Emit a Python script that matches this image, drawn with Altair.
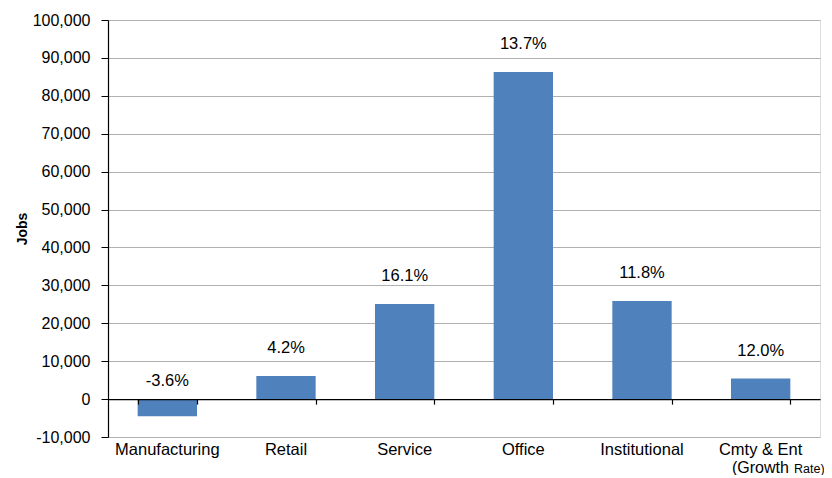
import altair as alt
import pandas as pd

categories = ["Manufacturing", "Retail", "Service", "Office", "Institutional", "Cmty & Ent"]
jobs = [-4500, 6100, 25100, 86300, 25900, 5400]
growth = ["-3.6%", "4.2%", "16.1%", "13.7%", "11.8%", "12.0%"]

df = pd.DataFrame({"cat": categories, "jobs": jobs, "growth": growth})
df["pos"] = df["jobs"].clip(lower=0)

FONT = "Liberation Sans"
W, H = 712, 417

xscale = alt.Scale(paddingInner=0.5, paddingOuter=0.25)

x_enc_labels = alt.X(
    "cat:N", sort=categories, title=None, scale=xscale,
    axis=alt.Axis(orient="bottom", domain=False, ticks=False, labelAngle=0, labelFontSize=16.5,
                  labelFont=FONT, labelColor="#000", labelPadding=4, grid=False),
)
x_enc_zero = alt.X(
    "cat:N", sort=categories, title=None, scale=xscale,
    axis=alt.Axis(orient="bottom", labels=False, domain=True, domainColor="#000", domainWidth=1.2,
                  ticks=True, tickColor="#000", tickSize=5, tickWidth=1.2,
                  tickBand="extent", offset=-37.9, grid=False, zindex=1),
)
x_enc_none = alt.X("cat:N", sort=categories, scale=xscale, axis=None)

yaxis = alt.Axis(values=list(range(-10000, 100001, 10000)), format=",.0f",
                 labelExpr="replace(datum.label, '\u2212', '-')",
                 labelFont=FONT, labelFontSize=16, labelColor="#000",
                 labelPadding=11, tickSize=7, tickColor="#000",
                 domainColor="#000", domainWidth=1.2,
                 gridColor="#b0b0b0", gridWidth=1,
                 titleFont=FONT, titleFontSize=14, titleFontWeight="bold",
                 titleColor="#000", titlePadding=3)
yscale = alt.Scale(domain=[-10000, 100000], nice=False)


def yenc(field):
    return alt.Y(field, title="Jobs", scale=yscale, axis=yaxis)


bars = alt.Chart(df).mark_bar(color="#4f81bd").encode(x=x_enc_labels, y=yenc("jobs:Q"))

zero_axis = alt.Chart(df).mark_bar(opacity=0).encode(x=x_enc_zero, y=yenc("jobs:Q"))

pos_labels = alt.Chart(df).transform_filter("datum.jobs >= 0").mark_text(
    font=FONT, fontSize=16.5, color="#000", baseline="middle", dy=-28
).encode(x=x_enc_none, y=yenc("pos:Q"), text="growth:N")

neg_labels = alt.Chart(df).transform_filter("datum.jobs < 0").mark_text(
    font=FONT, fontSize=16.5, color="#000", baseline="middle", dy=-18
).encode(x=x_enc_none, y=yenc("pos:Q"), text="growth:N")

note1 = alt.Chart(pd.DataFrame({"t": ["(Growth"]})).mark_text(
    font=FONT, fontSize=16, color="#000", align="left", baseline="middle"
).encode(x=alt.value(624), y=alt.value(448), text="t:N")
note2 = alt.Chart(pd.DataFrame({"t": ["Rate)"]})).mark_text(
    font=FONT, fontSize=12.5, color="#000", align="left", baseline="middle"
).encode(x=alt.value(686), y=alt.value(449), text="t:N")

chart = alt.layer(bars, zero_axis, pos_labels, neg_labels, note1, note2).resolve_axis(
    x="independent"
).properties(
    width=W, height=H,
    autosize=alt.AutoSizeParams(type="none"),
    padding={"left": 100, "top": 12, "right": 4, "bottom": 38},
).configure_view(stroke=None).configure(background="white")

chart.save("out.html", embed_options={"renderer": "svg", "actions": False})
